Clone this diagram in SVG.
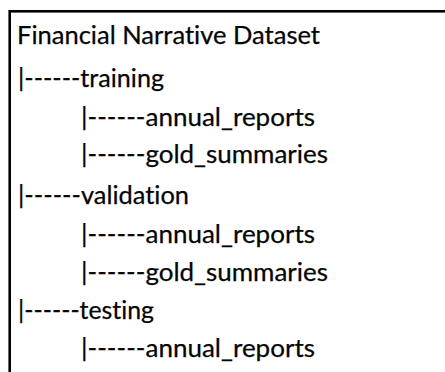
<svg xmlns="http://www.w3.org/2000/svg" width="445" height="372" viewBox="0 0 445 372">
  <style>
    .t { font-family: Lato, "Open Sans", "Liberation Sans", sans-serif; font-size: 25px; fill: #050505; stroke: #050505; stroke-width: 0.25; font-variant-ligatures: none; font-feature-settings: "liga" 0, "dlig" 0; }
    .frame { fill: #ffffff; stroke: #000000; stroke-width: 2.6; }
  </style>
  <rect width="445" height="372" fill="#ffffff"/>
  <g id="frame">
    <rect class="frame" x="9.7" y="11.3" width="460" height="400"/>
  </g>
  <g id="connectors"></g>
  <g id="root">
    <text class="t" x="17" y="43.5" textLength="303" lengthAdjust="spacingAndGlyphs">Financial Narrative Dataset</text>
  </g>
  <g id="training">
    <text class="t" x="18" y="87" textLength="146" lengthAdjust="spacingAndGlyphs">|------training</text>
  </g>
  <g id="training-annual-reports">
    <text class="t" x="81" y="126" textLength="234" lengthAdjust="spacingAndGlyphs">|------annual_reports</text>
  </g>
  <g id="training-gold-summaries">
    <text class="t" x="81" y="163" textLength="247" lengthAdjust="spacingAndGlyphs">|------gold_summaries</text>
  </g>
  <g id="validation">
    <text class="t" x="18" y="204" textLength="171" lengthAdjust="spacingAndGlyphs">|------validation</text>
  </g>
  <g id="validation-annual-reports">
    <text class="t" x="81" y="243" textLength="234" lengthAdjust="spacingAndGlyphs">|------annual_reports</text>
  </g>
  <g id="validation-gold-summaries">
    <text class="t" x="81" y="281" textLength="247" lengthAdjust="spacingAndGlyphs">|------gold_summaries</text>
  </g>
  <g id="testing">
    <text class="t" x="18" y="319" textLength="136" lengthAdjust="spacingAndGlyphs">|------testing</text>
  </g>
  <g id="testing-annual-reports">
    <text class="t" x="81" y="356.5" textLength="234" lengthAdjust="spacingAndGlyphs">|------annual_reports</text>
  </g>
</svg>
